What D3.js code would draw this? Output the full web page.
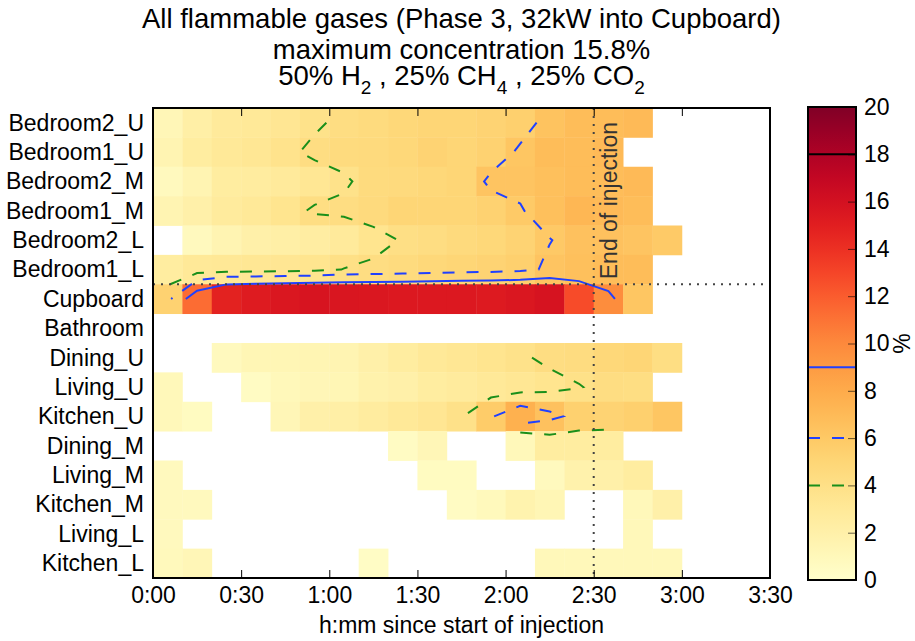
<!DOCTYPE html>
<html>
<head>
<meta charset="UTF-8">
<title>All flammable gases</title>
<script src="https://d3js.org/d3.v7.min.js"></script>
<style>
    body { margin: 0; background: #fff; }
    text { font-family: "Liberation Sans", Arial, sans-serif; fill: #000; }
    .tick text { font-size: 23px; }
</style>
</head>
<body>
<div id="chart"></div>
<script>
// rows of the heat map, top to bottom
const rooms = ["Bedroom2_U", "Bedroom1_U", "Bedroom2_M", "Bedroom1_M", "Bedroom2_L", "Bedroom1_L",
    "Cupboard", "Bathroom", "Dining_U", "Living_U", "Kitchen_U", "Dining_M", "Living_M",
    "Kitchen_M", "Living_L", "Kitchen_L"];
// start of each 10 minute column (minutes since start of injection)
const times = [0, 10, 20, 30, 40, 50, 60, 70, 80, 90, 100, 110, 120, 130, 140, 150, 160, 170];

// concentration, % (null = no reading)
const bedroom2U = [1.2, 2.2, 2.8, 3.0, 3.3, 3.8, 4.3, 4.5, 4.8, 5.0, 5.0, 5.2, 5.5, 6.4, 6.8, 6.8, 7.0, null];
const bedroom1U = [1.5, 2.5, 3.0, 3.2, 3.7, 4.3, 4.5, 4.6, 4.8, 5.2, 5.0, 5.3, 6.2, 6.8, 6.8, 7.0, null, null];
const bedroom2M = [0.8, 1.5, 2.5, 2.6, 2.8, 3.2, 3.8, 4.5, 4.6, 4.8, 5.0, 6.3, 6.3, 6.6, 6.8, 6.8, 7.0, null];
const bedroom1M = [1.5, 2.0, 2.7, 3.0, 3.5, 4.2, 4.3, 4.6, 5.0, 5.0, 5.0, 5.3, 5.9, 6.6, 7.2, 7.0, 6.8, null];
const bedroom2L = [null, 0.8, 1.5, 2.0, 2.2, 2.4, 2.8, 3.5, 4.1, 4.3, 4.6, 4.8, 5.2, 5.95, 6.5, 6.5, 6.3, 5.9];
const bedroom1L = [2.5, 3.0, 3.1, 3.2, 3.3, 3.5, 4.05, 4.3, 4.5, 4.8, 5.0, 5.2, 5.5, 6.3, 6.6, 6.8, 6.8, null];
const cupboard  = [5.3, 11.3, 14.8, 15.2, 15.5, 15.7, 15.6, 15.5, 15.4, 15.4, 15.4, 15.3, 15.5, 15.8, 12.7, 9.8, 6.2, null];
const bathroom  = [null, null, null, null, null, null, null, null, null, null, null, null, null, null, null, null, null, null];
const diningU   = [null, null, 0.8, 1.3, 1.3, 1.4, 1.5, 2.0, 2.5, 3.0, 3.2, 3.5, 3.8, 4.3, 4.4, 4.8, 5.0, 4.2];
const livingU   = [1.0, null, null, 0.5, 1.0, 1.2, 1.3, 1.8, 2.0, 2.5, 2.7, 3.0, 3.2, 3.5, 3.95, 4.3, 4.2, null];
const kitchenU  = [1.0, 0.6, null, null, 1.2, 2.0, 2.2, 2.6, 3.0, 3.3, 3.9, 5.8, 7.6, 6.5, 5.4, 5.2, 5.5, 6.2];
const diningM   = [null, null, null, null, null, null, null, null, 0.5, 1.2, null, null, 1.0, 2.5, 2.5, 2.5, null, null];
const livingM   = [0.8, null, null, null, null, null, null, null, null, 0.6, 0.6, null, null, 0.8, 1.8, 2.0, 2.5, null];
const kitchenM  = [0.8, 0.8, null, null, null, null, null, null, null, null, 0.5, 0.9, 1.7, 1.3, null, null, 1.0, 2.0];
const livingL   = [0.8, null, null, null, null, null, null, null, null, null, null, null, null, null, null, null, 1.0, null];
const kitchenL  = [0.9, 1.2, null, null, null, null, null, 0.4, null, null, null, null, null, 1.0, 1.0, 1.0, 1.0, 1.0];

const grid = [bedroom2U, bedroom1U, bedroom2M, bedroom1M, bedroom2L, bedroom1L, cupboard, bathroom,
    diningU, livingU, kitchenU, diningM, livingM, kitchenM, livingL, kitchenL];

// contour levels drawn on the map and on the colour bar
const levels = [4, 6, 9, 18];
const levelColors = ["#1a8f1a", "#2040ff", "#2040ff", "#000"];
const levelDash = ["12,12", "12,12", null, null];

const xTicks = [0, 30, 60, 90, 120, 150, 180, 210];
const xTickLabels = ["0:00", "0:30", "1:00", "1:30", "2:00", "2:30", "3:00", "3:30"];
const cbTicks = [0, 2, 4, 6, 8, 10, 12, 14, 16, 18, 20];
const injectionEnd = 150;

const width = 915, height = 641;
const margin = { left: 153, right: 770, top: 108, bottom: 578 };

const svg = d3.select("#chart").append("svg")
    .attr("width", width)
    .attr("height", height);

const x = d3.scaleLinear().domain([0, 210]).range([margin.left, margin.right]);
const y = d3.scaleBand().domain(rooms).range([margin.top, margin.bottom]).padding(0);
const rowPos = d3.scaleLinear().domain([0, rooms.length]).range([margin.top, margin.bottom]);
const colTime = d3.scaleLinear().domain([0, times.length - 1]).range([times[0] + 5, times[times.length - 1] + 5]);
const color = d3.scaleSequential(d3.interpolateYlOrRd).domain([0, 20]);

// cells
const cells = [];
grid.forEach((row, r) => row.forEach((v, c) => {
    if (v != null) cells.push({ room: rooms[r], t: times[c], v: v });
}));

svg.append("g")
    .selectAll("rect")
    .data(cells)
    .enter()
    .append("rect")
    .attr("x", d => x(d.t))
    .attr("y", d => y(d.room))
    .attr("width", d => x(d.t + 10) - x(d.t) + 0.4)
    .attr("height", y.bandwidth() + 0.4)
    .attr("fill", d => color(d.v));

// marching squares over the cell centres; masked (null) cells break the lines
function contourLines(g, level) {
    const nr = g.length, nc = g[0].length;
    const pts = new Map(), adj = new Map();
    function pt(key, i0, j0, i1, j1) {
        if (!pts.has(key)) {
            const a = g[j0][i0], b = g[j1][i1];
            const t = (level - a) / (b - a);
            pts.set(key, [i0 + (i1 - i0) * t, j0 + (j1 - j0) * t]);
        }
        return key;
    }
    function link(k1, k2) {
        if (!adj.has(k1)) adj.set(k1, []);
        if (!adj.has(k2)) adj.set(k2, []);
        adj.get(k1).push(k2);
        adj.get(k2).push(k1);
    }
    for (let j = 0; j < nr - 1; j++) {
        for (let i = 0; i < nc - 1; i++) {
            const a = g[j][i], b = g[j][i + 1], c = g[j + 1][i + 1], d = g[j + 1][i];
            if (a == null || b == null || c == null || d == null) continue;
            const T = () => pt(`h${j}_${i}`, i, j, i + 1, j);
            const R = () => pt(`v${j}_${i + 1}`, i + 1, j, i + 1, j + 1);
            const B = () => pt(`h${j + 1}_${i}`, i, j + 1, i + 1, j + 1);
            const L = () => pt(`v${j}_${i}`, i, j, i, j + 1);
            const idx = (a >= level ? 8 : 0) | (b >= level ? 4 : 0) | (c >= level ? 2 : 0) | (d >= level ? 1 : 0);
            const mid = (a + b + c + d) / 4 >= level;
            switch (idx) {
                case 1: case 14: link(L(), B()); break;
                case 2: case 13: link(B(), R()); break;
                case 3: case 12: link(L(), R()); break;
                case 4: case 11: link(T(), R()); break;
                case 6: case 9: link(T(), B()); break;
                case 7: case 8: link(T(), L()); break;
                case 5:
                    if (mid) { link(T(), L()); link(B(), R()); }
                    else { link(T(), R()); link(L(), B()); }
                    break;
                case 10:
                    if (mid) { link(T(), R()); link(L(), B()); }
                    else { link(T(), L()); link(B(), R()); }
                    break;
            }
        }
    }
    const used = new Set();
    const segKey = (p, q) => p < q ? p + "|" + q : q + "|" + p;
    function walk(start) {
        const line = [start];
        let cur = start;
        while (true) {
            const nxt = adj.get(cur).find(n => !used.has(segKey(cur, n)));
            if (nxt === undefined) break;
            used.add(segKey(cur, nxt));
            line.push(nxt);
            cur = nxt;
        }
        return line.map(k => pts.get(k));
    }
    const lines = [];
    for (const [k, ns] of adj) if (ns.length === 1 && !used.has(segKey(k, ns[0]))) lines.push(walk(k));
    for (const [k, ns] of adj) if (ns.some(n => !used.has(segKey(k, n)))) lines.push(walk(k));
    return lines;
}

const contourLine = d3.line()
    .x(p => x(colTime(p[0])))
    .y(p => rowPos(p[1] + 0.5));

const cg = svg.append("g").attr("fill", "none");
levels.forEach((lv, k) => {
    cg.selectAll(null)
        .data(contourLines(grid, lv))
        .enter()
        .append("path")
        .attr("d", contourLine)
        .attr("stroke", levelColors[k])
        .attr("stroke-width", 2)
        .attr("stroke-dasharray", levelDash[k]);
});

// end of injection and upstairs / downstairs divider
svg.append("line")
    .attr("x1", x(injectionEnd)).attr("x2", x(injectionEnd))
    .attr("y1", margin.top).attr("y2", margin.bottom)
    .attr("stroke", "#444").attr("stroke-width", 2).attr("stroke-dasharray", "2,6");
svg.append("line")
    .attr("x1", margin.left).attr("x2", margin.right)
    .attr("y1", y("Cupboard")).attr("y2", y("Cupboard"))
    .attr("stroke", "#444").attr("stroke-width", 2).attr("stroke-dasharray", "2,6");
svg.append("text")
    .attr("transform", `translate(${x(injectionEnd) + 23},${y("Cupboard") - 5}) rotate(-90)`)
    .attr("font-size", 23)
    .style("fill", "#333")
    .text("End of injection");

// axes
const fmt = d3.scaleOrdinal().domain(xTicks).range(xTickLabels);
const xAxis = svg.append("g")
    .attr("transform", `translate(0,${margin.bottom})`)
    .call(d3.axisBottom(x).tickValues(xTicks).tickFormat(fmt).tickSize(-8).tickPadding(9));
const xTop = svg.append("g")
    .attr("transform", `translate(0,${margin.top})`)
    .call(d3.axisTop(x).tickValues(xTicks).tickFormat("").tickSize(-8));
const yAxis = svg.append("g")
    .attr("transform", `translate(${margin.left},0)`)
    .call(d3.axisLeft(y).tickSize(0).tickPadding(9));
[xAxis, xTop, yAxis].forEach(a => {
    a.select(".domain").remove();
    a.selectAll(".tick line").attr("stroke", "#000").attr("stroke-width", 1);
    a.selectAll(".tick text").attr("font-family", null).attr("font-size", null).attr("fill", "#000");
});
yAxis.selectAll(".tick text").attr("dy", "0.34em");

svg.append("rect")
    .attr("x", margin.left).attr("y", margin.top)
    .attr("width", margin.right - margin.left).attr("height", margin.bottom - margin.top)
    .attr("fill", "none").attr("stroke", "#000").attr("stroke-width", 2);

svg.append("text")
    .attr("x", (margin.left + margin.right) / 2).attr("y", 633)
    .attr("text-anchor", "middle").attr("font-size", 23)
    .text("h:mm since start of injection");

// title
const tx = (margin.left + margin.right) / 2;
svg.append("text").attr("x", tx).attr("y", 28).attr("text-anchor", "middle").attr("font-size", 27.5)
    .text("All flammable gases (Phase 3, 32kW into Cupboard)");
svg.append("text").attr("x", tx).attr("y", 59).attr("text-anchor", "middle").attr("font-size", 27.5)
    .text("maximum concentration 15.8%");
const t3 = svg.append("text").attr("x", tx).attr("y", 94).attr("text-anchor", "middle").attr("font-size", 27.5);
const parts = [["50% H", "2"], [" , 25% CH", "4"], [" , 25% CO", "2"]];
parts.forEach(([main, sub]) => {
    t3.append("tspan").attr("dy", t3.selectAll("tspan").size() ? -9 : 0).text(main);
    t3.append("tspan").attr("dy", 9).attr("font-size", 19).text(sub);
});

// colour bar
const cb = { x: 808, w: 48, top: 107, bottom: 580 };
const cbY = d3.scaleLinear().domain([0, 20]).range([cb.bottom, cb.top]);
const grad = svg.append("defs").append("linearGradient")
    .attr("id", "cbgrad").attr("x1", 0).attr("x2", 0).attr("y1", 1).attr("y2", 0);
d3.range(0, 1.0001, 0.05).forEach(t => {
    grad.append("stop").attr("offset", t).attr("stop-color", color(t * 20));
});
svg.append("rect")
    .attr("x", cb.x).attr("y", cb.top).attr("width", cb.w).attr("height", cb.bottom - cb.top)
    .attr("fill", "url(#cbgrad)");
levels.forEach((lv, k) => {
    svg.append("line")
        .attr("x1", cb.x).attr("x2", cb.x + cb.w)
        .attr("y1", cbY(lv)).attr("y2", cbY(lv))
        .attr("stroke", levelColors[k]).attr("stroke-width", 2)
        .attr("stroke-dasharray", levelDash[k] ? "12,12" : null);
});
const cbAxis = svg.append("g")
    .attr("transform", `translate(${cb.x + cb.w},0)`)
    .call(d3.axisRight(cbY).tickValues(cbTicks).tickSize(-8).tickPadding(8));
cbAxis.select(".domain").remove();
cbAxis.selectAll(".tick line").attr("stroke", "#000").attr("stroke-opacity", 0.6);
cbAxis.selectAll(".tick text").attr("font-family", null).attr("font-size", null).attr("fill", "#000");
svg.append("rect")
    .attr("x", cb.x).attr("y", cb.top).attr("width", cb.w).attr("height", cb.bottom - cb.top)
    .attr("fill", "none").attr("stroke", "#000").attr("stroke-width", 2);
svg.append("text")
    .attr("transform", `translate(910,${(cb.top + cb.bottom) / 2}) rotate(-90)`)
    .attr("text-anchor", "middle").attr("font-size", 23)
    .text("%");
</script>
</body>
</html>
